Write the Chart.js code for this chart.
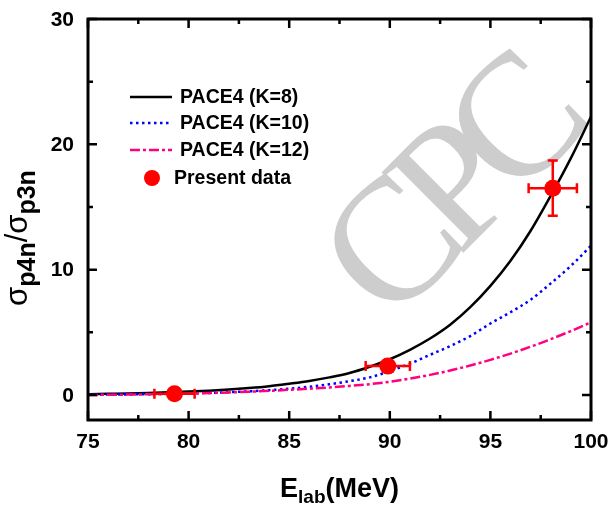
<!DOCTYPE html>
<html>
<head>
<meta charset="utf-8">
<script src="https://cdn.jsdelivr.net/npm/chart.js@4.4.1/dist/chart.umd.min.js"></script>
<style>
  html, body { margin: 0; padding: 0; background: #fff; }
</style>
</head>
<body>
<canvas id="ratioChart" width="613" height="506"></canvas>
<script>
// PACE4 curves for sigma(p4n)/sigma(p3n), sampled every 1 MeV
const energy = [75, 76, 77, 78, 79, 80, 81, 82, 83, 84, 85, 86, 87,
                88, 89, 90, 91, 92, 93, 94, 95, 96, 97, 98, 99, 100];
const paceK8 = [0.06, 0.09, 0.12, 0.16, 0.21, 0.27, 0.34, 0.43, 0.55, 0.7, 0.9, 1.12, 1.4,
                1.75, 2.25, 2.85, 3.6, 4.5, 5.6, 7.0, 8.7, 10.7, 13.1, 15.9, 18.9, 22.2];
const paceK10 = [0.02, 0.03, 0.04, 0.06, 0.09, 0.12, 0.16, 0.22, 0.29, 0.38, 0.5, 0.65, 0.85,
                 1.1, 1.4, 1.9, 2.5, 3.2, 3.9, 4.7, 5.7, 6.6, 7.6, 8.9, 10.3, 11.9];
const paceK12 = [0.0, 0.01, 0.03, 0.05, 0.08, 0.11, 0.15, 0.2, 0.26, 0.33, 0.41, 0.5, 0.6,
                 0.72, 0.86, 1.05, 1.3, 1.6, 1.95, 2.35, 2.8, 3.3, 3.85, 4.45, 5.1, 5.8];

// measured points with errors
const dataE = [79.3, 89.9, 98.1];
const dataRatio = [0.1, 2.3, 16.5];
const dataErrE = [1.0, 1.1, 1.2];
const dataErrRatio = [0, 0, 2.2];

const xTicks = [75, 80, 85, 90, 95, 100];
const xMinor = [77.5, 82.5, 87.5, 92.5, 97.5];
const yTicks = [0, 10, 20, 30];
const yMinor = [5, 15, 25];

const legendLabels = ["PACE4 (K=8)", "PACE4 (K=10)", "PACE4 (K=12)", "Present data"];

const FONT = "Arial, 'Liberation Sans', sans-serif";
const RED = "#ff0000";

const toXY = (xs, ys) => xs.map((x, i) => ({ x: x, y: ys[i] }));

const curveStyles = [
    { color: "#000000", dash: [] },
    { color: "#0000ff", dash: [2.5, 3.5] },
    { color: "#ff0080", dash: [10, 3, 3, 3] }
];

// faint "CPC" stamp behind the curves
const watermark = {
    id: "watermark",
    beforeDatasetsDraw(chart) {
        const ctx = chart.ctx;
        ctx.save();
        ctx.translate(390, 244);
        ctx.rotate(-Math.PI / 4);
        ctx.font = "175px 'Liberation Serif', 'Times New Roman', serif";
        ctx.letterSpacing = "-19px";
        ctx.fillStyle = "#cdcdcd";
        ctx.textBaseline = "alphabetic";
        ctx.fillText("CPC", -58, 58);
        ctx.restore();
    }
};

const errorBars = {
    id: "errorBars",
    afterDatasetsDraw(chart) {
        const ctx = chart.ctx;
        const xs = chart.scales.x, ys = chart.scales.y;
        const cap = 5;
        ctx.save();
        ctx.strokeStyle = RED;
        ctx.lineWidth = 2.5;
        dataE.forEach((e, i) => {
            const px = xs.getPixelForValue(e);
            const py = ys.getPixelForValue(dataRatio[i]);
            if (dataErrE[i] > 0) {
                const x0 = xs.getPixelForValue(e - dataErrE[i]);
                const x1 = xs.getPixelForValue(e + dataErrE[i]);
                ctx.beginPath();
                ctx.moveTo(x0, py); ctx.lineTo(x1, py);
                ctx.moveTo(x0, py - cap); ctx.lineTo(x0, py + cap);
                ctx.moveTo(x1, py - cap); ctx.lineTo(x1, py + cap);
                ctx.stroke();
            }
            if (dataErrRatio[i] > 0) {
                const y0 = ys.getPixelForValue(dataRatio[i] - dataErrRatio[i]);
                const y1 = ys.getPixelForValue(dataRatio[i] + dataErrRatio[i]);
                ctx.beginPath();
                ctx.moveTo(px, y0); ctx.lineTo(px, y1);
                ctx.moveTo(px - cap, y0); ctx.lineTo(px + cap, y0);
                ctx.moveTo(px - cap, y1); ctx.lineTo(px + cap, y1);
                ctx.stroke();
            }
        });
        ctx.restore();
    }
};

// box around the plot, inward ticks on all four sides, tick labels
const frame = {
    id: "frame",
    afterDraw(chart) {
        const ctx = chart.ctx;
        const a = chart.chartArea;
        const xs = chart.scales.x, ys = chart.scales.y;
        ctx.save();
        ctx.strokeStyle = "#000";
        ctx.lineWidth = 3;
        ctx.strokeRect(a.left, a.top, a.right - a.left, a.bottom - a.top);
        ctx.lineWidth = 2.5;
        ctx.beginPath();
        const xTick = (v, len) => {
            const p = xs.getPixelForValue(v);
            ctx.moveTo(p, a.bottom); ctx.lineTo(p, a.bottom - len);
            ctx.moveTo(p, a.top); ctx.lineTo(p, a.top + len);
        };
        const yTick = (v, len) => {
            const p = ys.getPixelForValue(v);
            ctx.moveTo(a.left, p); ctx.lineTo(a.left + len, p);
            ctx.moveTo(a.right, p); ctx.lineTo(a.right - len, p);
        };
        xTicks.forEach(v => xTick(v, 9));
        xMinor.forEach(v => xTick(v, 5));
        yTicks.forEach(v => yTick(v, 9));
        yMinor.forEach(v => yTick(v, 5));
        ctx.stroke();

        ctx.fillStyle = "#000";
        ctx.font = "bold 21px " + FONT;
        ctx.textBaseline = "middle";
        ctx.textAlign = "center";
        xTicks.forEach(v => ctx.fillText(String(v), xs.getPixelForValue(v), 442));
        ctx.textAlign = "right";
        yTicks.forEach(v => ctx.fillText(String(v), 74, ys.getPixelForValue(v) + 1));
        ctx.restore();
    }
};

// text made of pieces with their own font and baseline shift
function drawPieces(ctx, pieces, cx, cy) {
    let total = 0;
    pieces.forEach(p => { ctx.font = p.font; p.w = ctx.measureText(p.text).width; total += p.w; });
    let x = cx - total / 2;
    pieces.forEach(p => {
        ctx.font = p.font;
        ctx.fillText(p.text, x, cy + (p.dy || 0));
        x += p.w;
    });
}

const axisTitles = {
    id: "axisTitles",
    afterDraw(chart) {
        const ctx = chart.ctx;
        const a = chart.chartArea;
        ctx.save();
        ctx.fillStyle = "#000";
        ctx.textBaseline = "alphabetic";
        ctx.textAlign = "left";
        const big = "bold 27px " + FONT;
        const sub = "bold 19px " + FONT;
        drawPieces(ctx, [
            { text: "E", font: big },
            { text: "lab", font: sub, dy: 6 },
            { text: "(MeV)", font: big }
        ], (a.left + a.right) / 2, 497);

        ctx.translate(27, 238);
        ctx.rotate(-Math.PI / 2);
        const sig = "31px " + FONT;
        const sub2 = "bold 25px " + FONT;
        drawPieces(ctx, [
            { text: "\u03c3", font: sig },
            { text: "p4n", font: sub2, dy: 8 },
            { text: "/", font: sig },
            { text: "\u03c3", font: sig },
            { text: "p3n", font: sub2, dy: 8 }
        ], 0, 0);
        ctx.restore();
    }
};

const legendBox = {
    id: "legendBox",
    afterDraw(chart) {
        const ctx = chart.ctx;
        const rows = [97, 123, 150, 178];
        ctx.save();
        curveStyles.forEach((s, i) => {
            ctx.strokeStyle = s.color;
            ctx.lineWidth = 2.5;
            ctx.setLineDash(s.dash);
            ctx.beginPath();
            ctx.moveTo(130, rows[i]);
            ctx.lineTo(172, rows[i]);
            ctx.stroke();
        });
        ctx.setLineDash([]);
        ctx.fillStyle = RED;
        ctx.beginPath();
        ctx.arc(152, rows[3], 8, 0, Math.PI * 2);
        ctx.fill();
        ctx.fillStyle = "#000";
        ctx.font = "bold 19.5px " + FONT;
        ctx.textBaseline = "middle";
        legendLabels.forEach((t, i) => {
            ctx.fillText(t, i === 3 ? 174 : 180, rows[i] + 1);
        });
        ctx.restore();
    }
};

new Chart(document.getElementById("ratioChart"), {
    type: "line",
    data: {
        datasets: [
            {
                label: legendLabels[3],
                type: "scatter",
                data: toXY(dataE, dataRatio),
                pointRadius: 8.5,
                pointBackgroundColor: RED,
                pointBorderWidth: 0,
                showLine: false
            },
            {
                label: legendLabels[2],
                data: toXY(energy, paceK12),
                borderColor: curveStyles[2].color,
                borderDash: curveStyles[2].dash,
                borderWidth: 2.5,
                pointRadius: 0,
                cubicInterpolationMode: "monotone"
            },
            {
                label: legendLabels[1],
                data: toXY(energy, paceK10),
                borderColor: curveStyles[1].color,
                borderDash: curveStyles[1].dash,
                borderWidth: 2.5,
                pointRadius: 0,
                cubicInterpolationMode: "monotone"
            },
            {
                label: legendLabels[0],
                data: toXY(energy, paceK8),
                borderColor: curveStyles[0].color,
                borderWidth: 2.5,
                pointRadius: 0,
                cubicInterpolationMode: "monotone"
            }
        ]
    },
    options: {
        responsive: false,
        animation: false,
        devicePixelRatio: 1,
        layout: { padding: { left: 0, right: 22, top: 19, bottom: 0 } },
        plugins: { legend: { display: false }, tooltip: { enabled: false } },
        scales: {
            x: {
                type: "linear",
                min: 75,
                max: 100,
                grid: { display: false },
                border: { display: false },
                afterBuildTicks: s => { s.ticks = xTicks.map(v => ({ value: v })); },
                afterFit: s => { s.height = 86; },
                ticks: { display: false }
            },
            y: {
                type: "linear",
                min: -2,
                max: 30,
                grid: { display: false },
                border: { display: false },
                afterBuildTicks: s => { s.ticks = yTicks.map(v => ({ value: v })); },
                afterFit: s => { s.width = 88; },
                ticks: { display: false }
            }
        }
    },
    plugins: [watermark, errorBars, frame, axisTitles, legendBox]
});
</script>
</body>
</html>
